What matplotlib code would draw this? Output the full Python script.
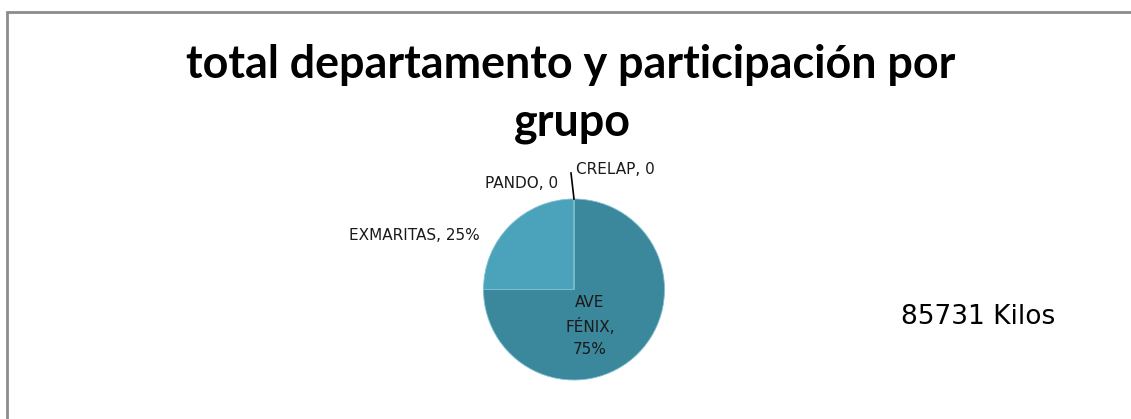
import matplotlib.pyplot as plt
from matplotlib.patches import Rectangle

# Data
groups = ['AVE FÉNIX', 'EXMARITAS', 'PANDO', 'CRELAP']
kilos = [64298, 21433, 0, 0]
total_kilos = 85731
title_lines = ['total departamento y participación por', 'grupo']

COLORS = ['#3B879B', '#4AA3BA', '#5AB4C9', '#2F7385']

W, H, DPI = 1131, 419, 100
fig = plt.figure(figsize=(W / DPI, H / DPI), dpi=DPI)
fig.patch.set_facecolor('white')

# chart area border (runs off the right and bottom edges)
fig.patches.append(Rectangle((7 / W, -0.1), 1.2, (H - 12) / H + 0.1,
                             transform=fig.transFigure, fill=False,
                             edgecolor='#8C8C8C', linewidth=2))

# title: two lines, first line fitted to ~768 px wide
title_kw = dict(ha='center', va='baseline', fontweight='bold',
                family=['Lato', 'DejaVu Sans'], color='black')
t1 = fig.text(571 / W, 1 - 78 / H, title_lines[0], fontsize=30, **title_kw)
renderer = fig.canvas.get_renderer()
size = 30 * 768 / t1.get_window_extent(renderer).width
t1.set_fontsize(size)
fig.text(572 / W, 1 - 135 / H, title_lines[1], fontsize=size, **title_kw)

# pie axes: 200x200 px box centred on the pie
cx, cy, half = 574, 289.5, 100
ax = fig.add_axes([(cx - half) / W, (H - cy - half) / H, 2 * half / W, 2 * half / H])
ax.pie(kilos, colors=COLORS, startangle=90, counterclock=False, radius=0.905,
       wedgeprops={'linewidth': 0.6, 'edgecolor': '#7FC0D0'})
ax.set_xlim(-1, 1)
ax.set_ylim(-1, 1)
ax.axis('off')

pct = [v / total_kilos * 100 for v in kilos]
lab_font = dict(fontsize=11, color='#1A1A1A', family='DejaVu Sans')
ax.text(0.16, -0.365, f'{groups[0].replace(" ", chr(10))},\n{pct[0]:.0f}%',
        ha='center', va='center', linespacing=1.55, **lab_font)
ax.text(-0.94, 0.545, f'{groups[1]}, {pct[1]:.0f}%', ha='right', va='center',
        clip_on=False, **lab_font)
ax.text(-0.16, 1.065, f'{groups[2]}, {kilos[2]}', ha='right', va='center',
        clip_on=False, **lab_font)
ax.text(0.02, 1.205, f'{groups[3]}, {kilos[3]}', ha='left', va='center',
        clip_on=False, **lab_font)
ax.plot([-0.03, 0.0], [1.165, 0.905], color='black', linewidth=1.2, clip_on=False)

fig.text(978 / W, 1 - 317 / H, f'{total_kilos} Kilos', ha='center', va='center',
         fontsize=19, family='DejaVu Sans')

fig.savefig('out.png', dpi=DPI)
